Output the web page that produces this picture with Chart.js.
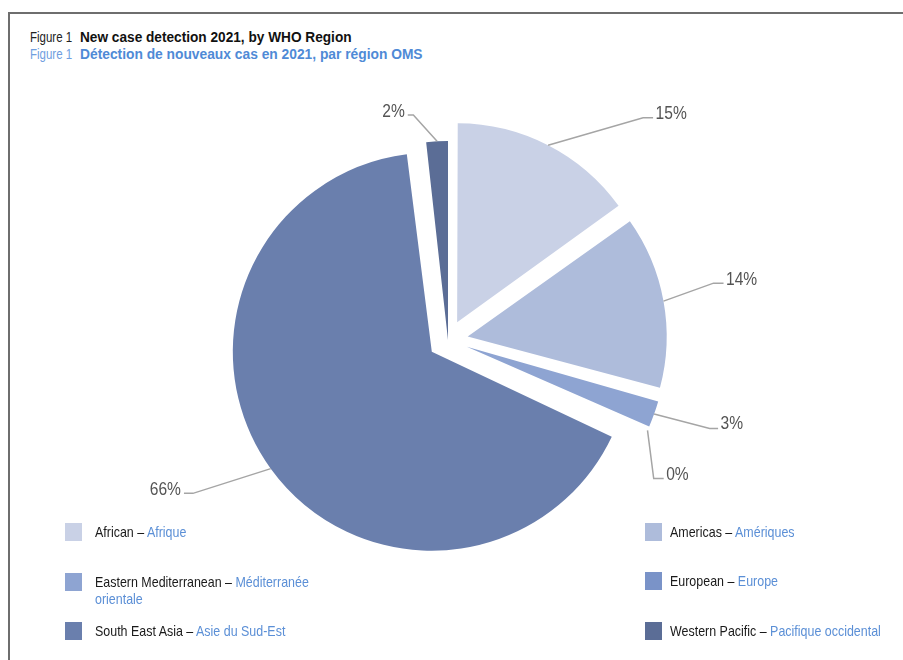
<!DOCTYPE html>
<html>
<head>
<meta charset="utf-8">
<script src="https://cdn.jsdelivr.net/npm/chart.js@4.4.1/dist/chart.umd.min.js"></script>
<style>
  html, body { margin: 0; padding: 0; background: #fff; width: 903px; height: 660px; overflow: hidden; }
  body { position: relative; font-family: "Liberation Sans", Arial, sans-serif; }
  #frame { position: absolute; left: 8px; top: 12px; width: 900px; height: 660px;
           border-top: 2px solid #6e6e6e; border-left: 2px solid #6e6e6e; }
  .fig { position: absolute; left: 30px; font-size: 14px; white-space: nowrap; transform: scaleX(0.82); transform-origin: left top; }
  .tt { position: absolute; left: 80px; font-size: 14px; font-weight: bold; white-space: nowrap; transform-origin: left top; }
  #f1 { top: 29px; color: #222; }
  #t1 { top: 29px; color: #111; transform: scaleX(0.975); }
  #f2 { top: 46px; color: #6f9ee0; }
  #t2 { top: 46px; color: #4f8ad6; transform: scaleX(0.985); }
  #chart { position: absolute; left: 98px; top: 60px; }
  .sw { position: absolute; width: 17px; height: 18px; }
  .lg { position: absolute; font-size: 15px; line-height: 17px; color: #1a1a1a; white-space: nowrap;
        transform: scaleX(0.83); transform-origin: left top; }
  .lg .fr { color: #5b8fd6; }
</style>
</head>
<body>
<div id="frame"></div>
<div class="fig" id="f1">Figure 1</div>
<div class="tt" id="t1">New case detection 2021, by WHO Region</div>
<div class="fig" id="f2">Figure 1</div>
<div class="tt" id="t2">Détection de nouveaux cas en 2021, par région OMS</div>
<canvas id="chart" width="700" height="560"></canvas>
<div id="legend"></div>
<script>
// ---- data ----
const regionsEN = ['African', 'Americas', 'Eastern Mediterranean', 'European', 'South East Asia', 'Western Pacific'];
const regionsFR = ['Afrique', 'Amériques', 'Méditerranée orientale', 'Europe', 'Asie du Sud-Est', 'Pacifique occidental'];
const shares = [15.1, 14.1, 2.55, 0, 66.45, 1.75];
const pctLabels = ['15%', '14%', '3%', '0%', '66%', '2%'];

// ---- styles ----
const colors = ['#c9d1e6', '#aebcdb', '#8ea4d2', '#7a93c8', '#6a7fad', '#5b6d96'];
const explode = [80, 80, 80, 80, 80, 0];
// leader line: [elbow dx, elbow dy, horizontal run, text baseline shift]
const leaders = [[95, -27.5, 10, 1.5], [50, -18, 10, 1.6], [55.6, 14.4, 8.4, 0.5], [6.2, 48.2, 10, 1], [-77.8, 24.7, -9, 1.3], [-23.7, -26.2, -5.6, 2.3]];
const R = 199;

const radiusFix = {
  id: 'radiusFix',
  beforeDatasetsDraw(chart) {
    const meta = chart.getDatasetMeta(0);
    const base = meta.controller.outerRadius;
    meta.data.forEach(arc => {
      const off = (arc.options.offset || 0) / 4;
      const fix = 1 - Math.sin(Math.min(Math.PI, arc.circumference || 0));
      arc.outerRadius = base - off * fix;
    });
  }
};

const leaderLabels = {
  id: 'leaderLabels',
  afterDatasetsDraw(chart) {
    const ctx = chart.ctx;
    const meta = chart.getDatasetMeta(0);
    const base = meta.controller.outerRadius;
    meta.data.forEach((arc, i) => {
      const mid = (arc.startAngle + arc.endAngle) / 2;
      const off = (arc.options.offset || 0) / 4;
      const ax = arc.x + Math.cos(mid) * (off + base);
      const ay = arc.y + Math.sin(mid) * (off + base);
      const [dx, dy, h, shift] = leaders[i];
      const ex = ax + dx, ey = ay + dy;
      ctx.save();
      ctx.beginPath();
      ctx.strokeStyle = '#a5a5a5';
      ctx.lineWidth = 1.5;
      ctx.moveTo(ax, ay);
      ctx.lineTo(ex, ey);
      ctx.lineTo(ex + h, ey);
      ctx.stroke();
      ctx.fillStyle = '#545454';
      ctx.font = '19px "Liberation Sans", Arial, sans-serif';
      ctx.textBaseline = 'alphabetic';
      ctx.textAlign = h >= 0 ? 'left' : 'right';
      ctx.translate(ex + h + (h >= 0 ? 2.5 : -3), ey + shift);
      ctx.scale(0.82, 1);
      ctx.fillText(pctLabels[i], 0, 0);
      ctx.restore();
    });
  }
};

new Chart(document.getElementById('chart'), {
  type: 'pie',
  data: {
    labels: regionsEN,
    datasets: [{
      data: shares,
      backgroundColor: colors,
      borderWidth: 0,
      offset: explode,
      radius: R
    }]
  },
  options: {
    responsive: false,
    animation: false,
    layout: { padding: 0 },
    plugins: { legend: { display: false }, tooltip: { enabled: false } }
  },
  plugins: [radiusFix, leaderLabels]
});

// ---- HTML legend (bilingual) ----
// [swatch x, swatch y, text x]
const legendPos = [[65, 523, 95], [645, 523, 670], [65, 573, 95], [645, 572, 670], [65, 622, 95], [645, 622, 670]];
const lg = document.getElementById('legend');
regionsEN.forEach((en, i) => {
  const [x, y, tx] = legendPos[i];
  const sw = document.createElement('div');
  sw.className = 'sw';
  sw.style.left = x + 'px';
  sw.style.top = y + 'px';
  sw.style.background = colors[i];
  lg.appendChild(sw);
  const d = document.createElement('div');
  d.className = 'lg';
  d.style.left = tx + 'px';
  d.style.top = y + 'px';
  const fr = regionsFR[i].replace('Méditerranée ', 'Méditerranée<br>');
  d.innerHTML = en + ' – <span class="fr">' + fr + '</span>';
  lg.appendChild(d);
});
</script>
</body>
</html>
